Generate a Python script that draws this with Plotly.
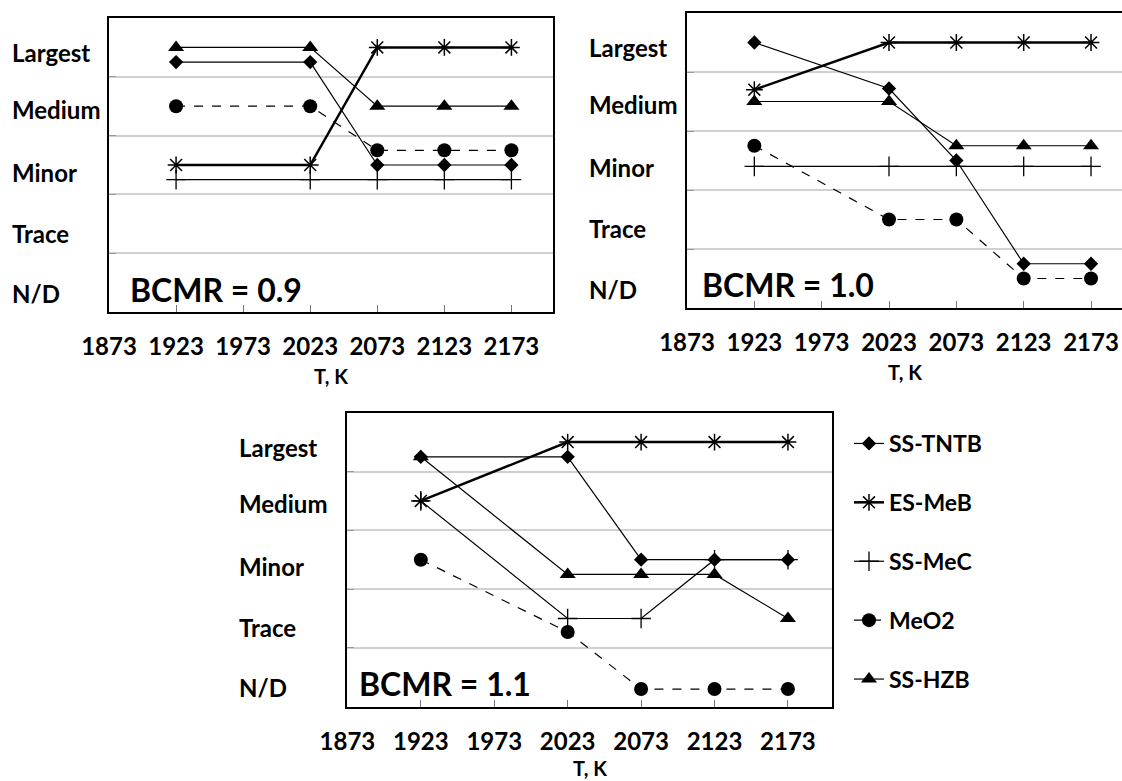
import plotly.graph_objects as go

# ---------------- data ----------------
temps = [1923, 2023, 2073, 2123, 2173]
x_ticks = [1873, 1923, 1973, 2023, 2073, 2123, 2173]
level_names = ["Largest", "Medium", "Minor", "Trace", "N/D"]
series_names = ["SS-TNTB", "ES-MeB", "SS-MeC", "MeO2", "SS-HZB"]
panel_titles = ["BCMR = 0.9", "BCMR = 1.0", "BCMR = 1.1"]

# values on a 0..5 scale (Largest ~4.5, Medium ~3.5, Minor ~2.5, Trace ~1.5, N/D ~0.5)
tntb_09 = [4.25, 4.25, 2.5, 2.5, 2.5]
meb_09 = [2.5, 2.5, 4.5, 4.5, 4.5]
mec_09 = [2.25, 2.25, 2.25, 2.25, 2.25]
meo2_09 = [3.5, 3.5, 2.75, 2.75, 2.75]
hzb_09 = [4.5, 4.5, 3.5, 3.5, 3.5]

tntb_10 = [4.5, 3.72, 2.5, 0.75, 0.75]
meb_10 = [3.7, 4.5, 4.5, 4.5, 4.5]
mec_10 = [2.4, 2.4, 2.4, 2.4, 2.4]
meo2_10 = [2.75, 1.5, 1.5, 0.5, 0.5]
hzb_10 = [3.5, 3.5, 2.75, 2.75, 2.75]

tntb_11 = [4.25, 4.25, 2.5, 2.5, 2.5]
meb_11 = [3.5, 4.5, 4.5, 4.5, 4.5]
mec_11 = [3.5, 1.5, 1.5, 2.5, 2.5]
meo2_11 = [2.5, 1.27, 0.3, 0.3, 0.3]
hzb_11 = [4.25, 2.25, 2.25, 2.25, 1.5]

panels = [
    [tntb_09, meb_09, mec_09, meo2_09, hzb_09],
    [tntb_10, meb_10, mec_10, meo2_10, hzb_10],
    [tntb_11, meb_11, mec_11, meo2_11, hzb_11],
]

# ---------------- layout / style ----------------
W, H = 1122, 781
FONT = "Lato"
# pixel boxes of the three plot areas: (left, top, right, bottom)
boxes = [(109, 18, 553, 312), (687, 13, 1122, 308), (347.4, 412.7, 832, 706.7)]
x_ranges = [[1873, 2204], [1873, 2196], [1873, 2203]]
label_pos = [4.41, 3.45, 2.38, 1.34, 0.32]
label_shift = [-99, -100, -110]
title_shift = [19, 13, 10]
xtitle_shift = [-64, -64, -61]

styles = [
    dict(mode="lines+markers", line=dict(color="black", width=1.2),
         marker=dict(symbol="diamond", size=11, color="black")),
    dict(mode="lines+markers", line=dict(color="black", width=2.5),
         marker=dict(symbol="asterisk-open", size=14, color="black",
                     line=dict(color="black", width=1.5))),
    dict(mode="lines+markers", line=dict(color="black", width=1.2),
         marker=dict(symbol="cross-thin-open", size=14, color="black",
                     line=dict(color="black", width=1.3))),
    dict(mode="lines+markers", line=dict(color="black", width=1.2, dash="dash"),
         marker=dict(symbol="circle", size=14, color="black")),
    dict(mode="lines+markers", line=dict(color="black", width=1.2),
         marker=dict(symbol="triangle-up", size=14, color="black")),
]

fig = go.Figure()
layout = dict(width=W, height=H, margin=dict(l=0, r=0, t=0, b=0, autoexpand=False),
              paper_bgcolor="white", plot_bgcolor="white",
              font=dict(family=FONT, color="black"))
annotations = []

for p, series in enumerate(panels):
    ax = "" if p == 0 else str(p + 1)
    for s, vals in enumerate(series):
        st = styles[s]
        fig.add_trace(go.Scatter(
            x=temps, y=vals, name=series_names[s], mode=st["mode"],
            line=st["line"], marker=st["marker"],
            xaxis="x" + ax, yaxis="y" + ax,
            showlegend=(p == 2), legendgroup=series_names[s],
        ))
    l, t, r, b = boxes[p]
    layout["xaxis" + ax] = dict(
        domain=[l / W, r / W], range=x_ranges[p], anchor="y" + ax,
        tickmode="array", tickvals=x_ticks, ticktext=[str(v) for v in x_ticks],
        ticks="inside", ticklen=7, tickcolor="#777", tickwidth=1,
        showline=True, mirror=True, linecolor="black", linewidth=2,
        showgrid=False, zeroline=False, ticklabelstandoff=12, automargin=False,
        tickfont=dict(family=FONT, size=24, weight="bold", color="black"),
    )
    layout["yaxis" + ax] = dict(
        domain=[1 - b / H, 1 - t / H], range=[0, 5], anchor="x" + ax,
        tickmode="array", tickvals=[1, 2, 3, 4], showticklabels=False,
        ticks="inside", ticklen=7, tickcolor="#999", automargin=False,
        showgrid=True, gridcolor="#d0d0d0", gridwidth=1.5,
        showline=True, mirror=True, linecolor="black", linewidth=2,
        zeroline=False,
    )
    for name, pos in zip(level_names, label_pos):
        annotations.append(dict(
            text=name, xref="x" + ax + " domain", x=0, xshift=label_shift[p],
            xanchor="left", yref="y" + ax, y=pos, yanchor="middle",
            showarrow=False, font=dict(family=FONT, size=24, weight="bold")))
    annotations.append(dict(
        text=panel_titles[p], xref="x" + ax + " domain", x=0, xshift=title_shift[p],
        xanchor="left", yref="y" + ax + " domain", y=0, yshift=23, yanchor="middle",
        showarrow=False, font=dict(family=FONT, size=32, weight="bold")))
    annotations.append(dict(
        text="T, K", xref="x" + ax + " domain", x=0.5, xanchor="center",
        yref="y" + ax + " domain", y=0, yshift=xtitle_shift[p], yanchor="middle",
        showarrow=False, font=dict(family=FONT, size=20, weight="bold")))

layout["annotations"] = annotations
layout["legend"] = dict(
    x=849 / W, y=1 - 422 / H, xanchor="left", yanchor="top",
    traceorder="grouped", tracegroupgap=26, bgcolor="rgba(0,0,0,0)",
    font=dict(family=FONT, size=23, weight="bold", color="black"),
    itemwidth=30,
)
fig.update_layout(**layout)
fig.write_html("out.html")
